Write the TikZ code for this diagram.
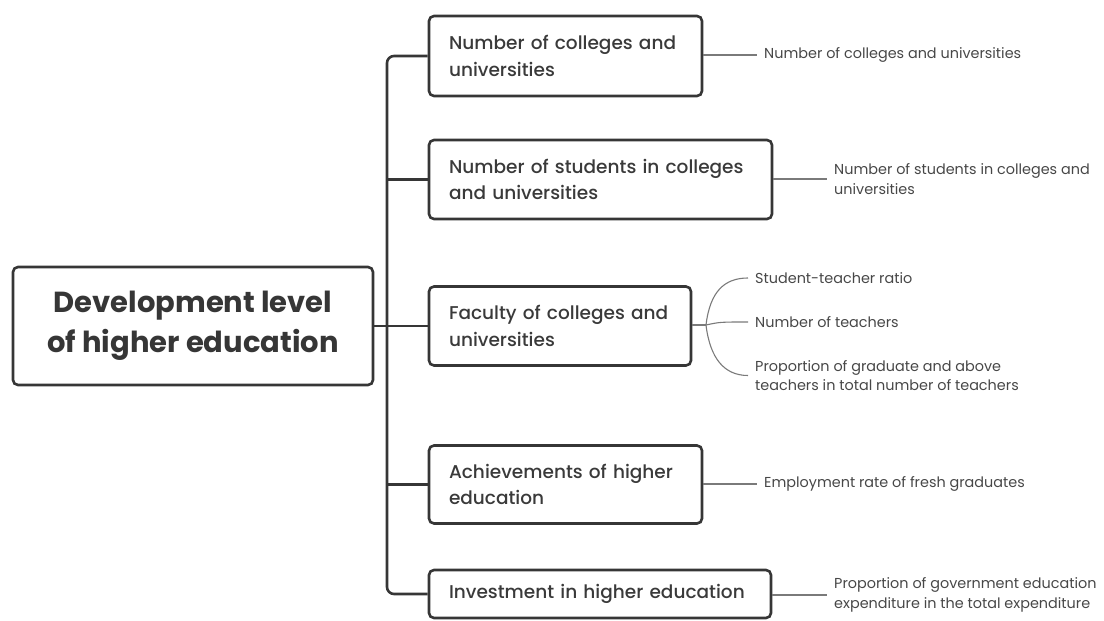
\documentclass[tikz,border=0pt]{standalone}
\usepackage{fontspec}
\setmainfont{Poppins}
\newfontfamily\medfont{Poppins Medium}
\usetikzlibrary{calc}
\definecolor{boxline}{HTML}{363636}
\definecolor{boxtext}{HTML}{3A3A3A}
\definecolor{leaftext}{HTML}{474747}
\definecolor{leafline}{HTML}{7A7A7A}
\tikzset{
  topic/.style={draw=boxline, line width=2.6pt, rounded corners=5pt, text=boxtext,
    align=left, inner xsep=20pt, inner ysep=0pt, font=\medfont\fontsize{18.5}{26.5}\selectfont},
  rootbox/.style={draw=boxline, line width=2.6pt, rounded corners=5pt, text=boxline,
    align=center, font=\bfseries\fontsize{29}{40}\selectfont},
  leaf/.style={anchor=west, align=left, inner xsep=7pt, inner ysep=0pt, text=leaftext,
    font=\fontsize{14.4}{19.5}\selectfont},
  trunk/.style={draw=boxline, line width=2.6pt},
  twig/.style={draw=leafline, line width=1.1pt}
}
\begin{document}
\begin{tikzpicture}[x=1pt,y=1pt]
\useasboundingbox (0,0) rectangle (1104,-621);
% root
\node[rootbox, minimum width=360pt, minimum height=118pt] (root) at (193,-326)
  {Development level\\of higher education};
% topics
\node[topic, text width=233pt, minimum height=80pt] (b1) at (565.5,-56)
  {Number of colleges and\\universities};
\node[topic, text width=303pt, minimum height=79pt] (b2) at (600.5,-179.5)
  {Number of students in colleges\\and universities};
\node[topic, text width=222pt, minimum height=79pt] (b3) at (560,-326)
  {Faculty of colleges and\\universities};
\node[topic, text width=233pt, minimum height=78pt] (b4) at (565.5,-484.5)
  {Achievements of higher\\education};
\node[topic, text width=302pt, minimum height=48pt] (b5) at (600,-594)
  {Investment in higher education};
% trunk
\coordinate (tx) at (387,0);
\draw[trunk, rounded corners=7pt] (b1.west) -- (tx |- b1.west) -- (tx |- b5.west) -- (b5.west);
\draw[trunk] (root.east) -- (b3.west);
\draw[trunk] (tx |- b2.west) -- (b2.west);
\draw[trunk] (tx |- b4.west) -- (b4.west);
% leaves
\node[leaf] (l1) at (757,-55) {Number of colleges and universities};
\node[leaf] (l2) at (827,-179) {Number of students in colleges and\\universities};
\node[leaf] (l3a) at (748,-278) {Student-teacher ratio};
\node[leaf] (l3b) at (748,-322) {Number of teachers};
\node[leaf] (l3c) at (748,-375.5) {Proportion of graduate and above\\teachers in total number of teachers};
\node[leaf] (l4) at (757,-484) {Employment rate of fresh graduates};
\node[leaf] (l5) at (827,-595) {Proportion of government education\\expenditure in the total expenditure};
% twigs
\draw[twig] (b1.east |- l1.west) -- (l1.west);
\draw[twig] (b2.east |- l2.west) -- (l2.west);
\draw[twig] (b4.east |- l4.west) -- (l4.west);
\draw[twig] (b5.east |- l5.west) -- (l5.west);
\coordinate (fan) at (706,-325);
\draw[twig] (b3.east |- fan) -- (fan);
\draw[twig] (fan) .. controls (710,-292) and (724,-278) .. (l3a.west);
\draw[twig] (fan) .. controls (720,-322) .. (l3b.west);
\draw[twig] (fan) .. controls (710,-358) and (724,-375.5) .. (l3c.west);
\end{tikzpicture}
\end{document}
